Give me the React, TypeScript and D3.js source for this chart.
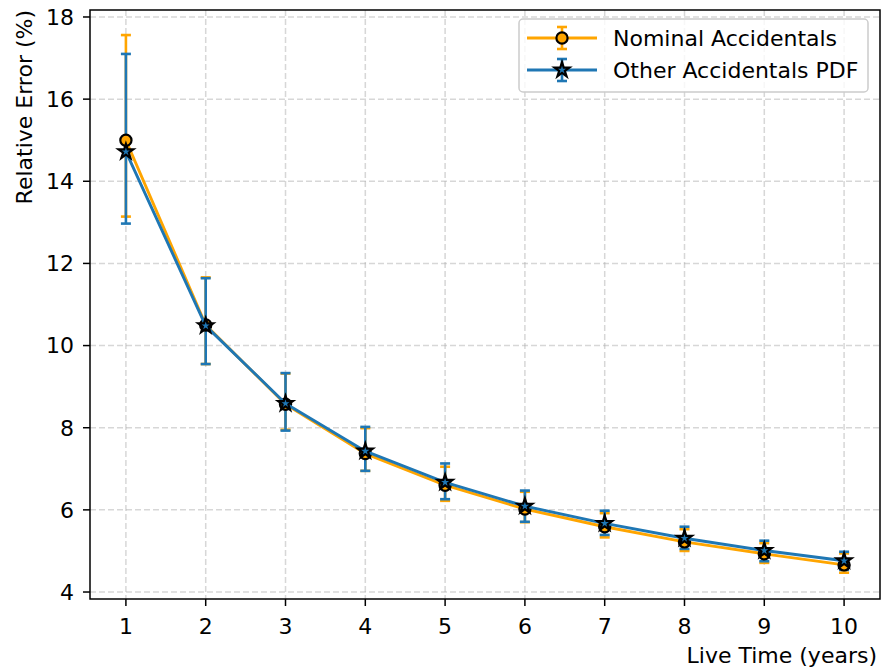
import React from "react";
import * as d3 from "d3";

const years = [1, 2, 3, 4, 5, 6, 7, 8, 9, 10];
const nominal = [15.0, 10.5, 8.57, 7.37, 6.6, 6.02, 5.59, 5.22, 4.93, 4.66];
const nominalLow = [13.14, 9.55, 7.95, 6.95, 6.22, 5.7, 5.33, 5.0, 4.71, 4.47];
const nominalHigh = [17.56, 11.66, 9.32, 7.99, 7.05, 6.44, 5.92, 5.53, 5.19, 4.94];
const other = [14.72, 10.48, 8.59, 7.43, 6.67, 6.09, 5.67, 5.31, 5.01, 4.76];
const otherLow = [12.97, 9.55, 7.93, 6.95, 6.26, 5.71, 5.39, 5.05, 4.75, 4.54];
const otherHigh = [17.1, 11.64, 9.33, 8.02, 7.13, 6.47, 5.98, 5.59, 5.25, 4.98];
const yTicks = [4, 6, 8, 10, 12, 14, 16, 18];
const seriesNames = ["Nominal Accidentals", "Other Accidentals PDF"];
const xLabel = "Live Time (years)";
const yLabel = "Relative Error (%)";

const W = 883;
const H = 667;
const left = 90, right = 880, top = 10, bottom = 599;
const ORANGE = "#FFA500";
const BLUE = "#1f77b4";
const FONT = "DejaVu Sans, sans-serif";
const FS = 22;

function starPath(R: number) {
  const r = R * 0.381966;
  const pts: [number, number][] = [];
  for (let i = 0; i < 10; i++) {
    const a = -Math.PI / 2 + (i * Math.PI) / 5;
    const rr = i % 2 === 0 ? R : r;
    pts.push([rr * Math.cos(a), rr * Math.sin(a)]);
  }
  return "M" + pts.map((p) => p[0].toFixed(2) + "," + p[1].toFixed(2)).join("L") + "Z";
}

export default function App() {
  const x = d3.scaleLinear().domain([0.55, 10.45]).range([left, right]);
  const y = d3.scaleLinear().domain([3.83, 18.17]).range([bottom, top]);
  const line = d3
    .line<[number, number]>()
    .x((d) => x(d[0]))
    .y((d) => y(d[1]));

  const series = [
    { name: seriesNames[0], vals: nominal, lo: nominalLow, hi: nominalHigh, color: ORANGE, marker: "circle" },
    { name: seriesNames[1], vals: other, lo: otherLow, hi: otherHigh, color: BLUE, marker: "star" },
  ];
  const cap = 5;
  const lw = 2.9;
  const star = starPath(7.8);

  const renderMarker = (kind: string, color: string, cx: number, cy: number, key?: any) =>
    kind === "circle" ? (
      <circle key={key} cx={cx} cy={cy} r={5.6} fill={color} stroke="#000" strokeWidth={2.2} />
    ) : (
      <path key={key} d={star} transform={`translate(${cx},${cy})`} fill={color} stroke="#000" strokeWidth={2.2} strokeLinejoin="miter" />
    );

  return (
    <svg width={W} height={H} style={{ position: "absolute", left: 0, top: 0, background: "#fff" }} fontFamily={FONT}>
      <rect x={0} y={0} width={W} height={H} fill="#fff" />
      {/* grid */}
      <g stroke="#b0b0b0" strokeOpacity={0.5} strokeWidth={1.5} strokeDasharray="6,3">
        {years.map((t) => (
          <line key={"gx" + t} x1={x(t)} x2={x(t)} y1={top} y2={bottom} />
        ))}
        {yTicks.map((t) => (
          <line key={"gy" + t} x1={left} x2={right} y1={y(t)} y2={y(t)} />
        ))}
      </g>
      {/* error bars */}
      {series.map((s) => (
        <g key={"eb" + s.name} stroke={s.color} strokeWidth={lw - 0.3}>
          {years.map((t, i) => (
            <g key={i}>
              <line x1={x(t)} x2={x(t)} y1={y(s.lo[i])} y2={y(s.hi[i])} />
              <line x1={x(t) - cap} x2={x(t) + cap} y1={y(s.lo[i])} y2={y(s.lo[i])} />
              <line x1={x(t) - cap} x2={x(t) + cap} y1={y(s.hi[i])} y2={y(s.hi[i])} />
            </g>
          ))}
        </g>
      ))}
      {/* lines and markers */}
      {series.map((s) => (
        <g key={"ln" + s.name}>
          <path d={line(years.map((t, i) => [t, s.vals[i]] as [number, number])) || ""} fill="none" stroke={s.color} strokeWidth={lw} strokeLinejoin="round" />
          {years.map((t, i) => renderMarker(s.marker, s.color, x(t), y(s.vals[i]), i))}
        </g>
      ))}
      {/* spines */}
      <rect x={left} y={top} width={right - left} height={bottom - top} fill="none" stroke="#000" strokeWidth={1.5} />
      {/* x ticks */}
      {years.map((t) => (
        <g key={"xt" + t}>
          <line x1={x(t)} x2={x(t)} y1={bottom} y2={bottom + 7} stroke="#000" strokeWidth={1.5} />
          <text x={x(t)} y={633.5} textAnchor="middle" fontSize={FS} fill="#000">
            {t}
          </text>
        </g>
      ))}
      {yTicks.map((t) => (
        <g key={"yt" + t}>
          <line x1={left - 7} x2={left} y1={y(t)} y2={y(t)} stroke="#000" strokeWidth={1.5} />
          <text x={74} y={y(t)} dy="0.36em" textAnchor="end" fontSize={FS} fill="#000">
            {t}
          </text>
        </g>
      ))}
      <text x={877} y={662.5} textAnchor="end" fontSize={FS} fill="#000">
        {xLabel}
      </text>
      <text transform={`translate(32,${top}) rotate(-90)`} textAnchor="end" fontSize={FS} fill="#000">
        {yLabel}
      </text>
      {/* legend */}
      <g>
        <rect x={519} y={19} width={349} height={73} rx={4} fill="#fff" fillOpacity={0.8} stroke="#cccccc" strokeWidth={1.5} />
        {series.map((s, i) => {
          const cy = 38 + i * 32;
          const hx = 562;
          return (
            <g key={"lg" + i}>
              <line x1={527} x2={597} y1={cy} y2={cy} stroke={s.color} strokeWidth={lw} />
              <line x1={hx} x2={hx} y1={cy - 11} y2={cy + 11} stroke={s.color} strokeWidth={lw - 0.3} />
              <line x1={hx - cap} x2={hx + cap} y1={cy - 11} y2={cy - 11} stroke={s.color} strokeWidth={lw - 0.3} />
              <line x1={hx - cap} x2={hx + cap} y1={cy + 11} y2={cy + 11} stroke={s.color} strokeWidth={lw - 0.3} />
              {renderMarker(s.marker, s.color, hx, cy)}
              <text x={613} y={cy} dy="0.36em" fontSize={FS} fill="#000">
                {s.name}
              </text>
            </g>
          );
        })}
      </g>
    </svg>
  );
}
